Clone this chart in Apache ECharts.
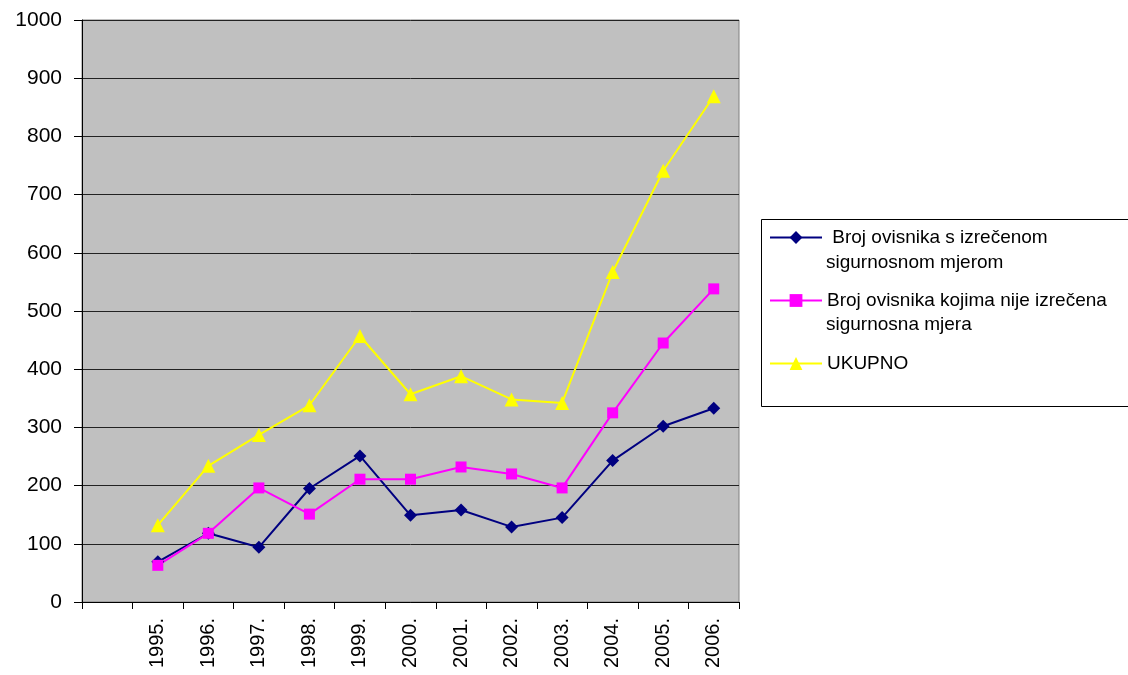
<!DOCTYPE html>
<html>
<head>
<meta charset="utf-8">
<script src="https://cdn.jsdelivr.net/npm/echarts@6/dist/echarts.min.js"></script>
<style>html,body{margin:0;padding:0;background:#fff}#c{width:1128px;height:675px}</style>
</head>
<body>
<div id="c"></div>
<script>
var categories = ['', '1995.', '1996.', '1997.', '1998.', '1999.', '2000.', '2001.', '2002.', '2003.', '2004.', '2005.', '2006.'];
var sIzrecenom = ['-', 69, 118, 94, 195, 251, 149, 158, 129, 145, 243, 302, 333];
var sNije = ['-', 63, 118, 196, 151, 211, 211, 232, 220, 196, 325, 445, 538];
var ukupno = ['-', 132, 234, 287, 338, 457, 357, 388, 348, 342, 567, 741, 869];
var seriesNames = [' Broj ovisnika s izrečenom', 'Broj ovisnika kojima nije izrečena', 'UKUPNO'];
var secondLines = ['sigurnosnom mjerom', 'sigurnosna mjera'];
var yTicks = {min: 0, max: 1000, interval: 100};

var FONT = 'Liberation Sans, Arial, sans-serif';
var chart = echarts.init(document.getElementById('c'), null, {renderer: 'canvas'});
chart.setOption({
  animation: false,
  backgroundColor: '#ffffff',
  grid: {left: 82, right: 389, top: 20, bottom: 73, show: true, backgroundColor: '#C0C0C0', borderColor: '#808080', borderWidth: 1},
  legend: {
    orient: 'vertical', left: 769, top: 228, padding: 0, itemGap: 44, itemWidth: 52, itemHeight: 16,
    textStyle: {fontFamily: FONT, fontSize: 19, color: '#000', lineHeight: 18},
    data: seriesNames
  },
  graphic: [
    {type: 'rect', left: 759, top: 217, shape: {width: 380, height: 187}, style: {fill: 'none', stroke: '#000', lineWidth: 1}},
    {type: 'text', left: 826, top: 253, style: {text: secondLines[0], font: '19px ' + FONT, fill: '#000'}},
    {type: 'text', left: 826, top: 315, style: {text: secondLines[1], font: '19px ' + FONT, fill: '#000'}}
  ],
  xAxis: {
    type: 'category', data: categories, boundaryGap: true,
    axisLine: {lineStyle: {color: '#000', width: 1}},
    axisTick: {show: true, length: 7, interval: 0, lineStyle: {color: '#000'}},
    axisLabel: {rotate: 90, interval: 0, margin: 16, fontFamily: FONT, fontSize: 20, color: '#000'}
  },
  yAxis: {
    type: 'value', min: yTicks.min, max: yTicks.max, interval: yTicks.interval,
    axisLine: {show: true, lineStyle: {color: '#000', width: 1}},
    axisTick: {show: true, length: 8, lineStyle: {color: '#000'}},
    axisLabel: {margin: 20, fontFamily: FONT, fontSize: 21, color: '#000', formatter: function (v) { return String(v); }},
    splitLine: {lineStyle: {color: '#222', width: 1}}
  },
  series: [
    {name: seriesNames[0], type: 'line', data: sIzrecenom, symbol: 'diamond', symbolSize: 13,
     lineStyle: {color: '#000080', width: 2}, itemStyle: {color: '#000080'}},
    {name: seriesNames[1], type: 'line', data: sNije, symbol: 'rect', symbolSize: 11,
     lineStyle: {color: '#FF00FF', width: 2}, itemStyle: {color: '#FF00FF'}},
    {name: seriesNames[2], type: 'line', data: ukupno, symbol: 'triangle', symbolSize: 14,
     lineStyle: {color: '#FFFF00', width: 2}, itemStyle: {color: '#FFFF00'}}
  ]
});
</script>
</body>
</html>
